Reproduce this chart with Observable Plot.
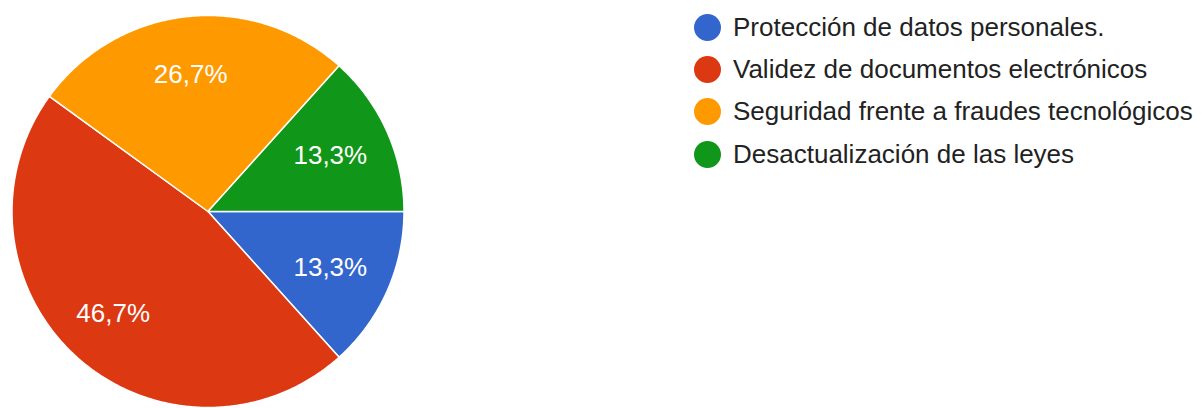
<!DOCTYPE html>
<html>
<head>
<meta charset="utf-8">
<script src="https://cdn.jsdelivr.net/npm/d3@7"></script>
<script src="https://cdn.jsdelivr.net/npm/@observablehq/plot@0.6"></script>
<style>
  html, body { margin: 0; padding: 0; background: #fff; }
  #wrap { position: relative; width: 1203px; height: 408px; overflow: hidden; }
  #legend { position: absolute; left: 694px; top: 6px; font-family: Arial, "Liberation Sans", sans-serif; font-size: 26px; color: #222; }
  .item { display: flex; align-items: center; height: 42.3px; white-space: nowrap; }
  .sw { width: 27px; height: 27px; border-radius: 50%; margin-right: 12px; flex: none; }
</style>
</head>
<body>
<div id="wrap"><div id="legend"></div></div>
<script>
const categories = [
  "Protección de datos personales.",
  "Validez de documentos electrónicos",
  "Seguridad frente a fraudes tecnológicos",
  "Desactualización de las leyes"
];
const values = [2, 7, 4, 2];
const labels = ["13,3%", "46,7%", "26,7%", "13,3%"];
const colors = ["#3366cc", "#dc3912", "#ff9900", "#109618"];

const pie = d3.pie().sort(null).value(d => d.value)
  .startAngle(Math.PI / 2).endAngle(Math.PI / 2 + 2 * Math.PI);
const arcs = pie(categories.map((c, i) => ({category: c, value: values[i], label: labels[i]})));

// polygon outline of each slice in unit-circle coordinates
const poly = [];
arcs.forEach(a => {
  poly.push({category: a.data.category, x: 0, y: 0});
  const n = Math.max(2, Math.ceil((a.endAngle - a.startAngle) / 0.01));
  for (let k = 0; k <= n; k++) {
    const t = a.startAngle + (a.endAngle - a.startAngle) * k / n;
    poly.push({category: a.data.category, x: Math.sin(t), y: Math.cos(t)});
  }
  poly.push({category: a.data.category, x: 0, y: 0});
});
const labelPts = arcs.map(a => {
  const m = (a.startAngle + a.endAngle) / 2;
  return {label: a.data.label, x: 0.7 * Math.sin(m), y: 0.7 * Math.cos(m)};
});

const cx = 207.5, cy = 211, r = 196;
const chart = Plot.plot({
  width: 1203,
  height: 408,
  margin: 0,
  x: {domain: [-1, 1], range: [cx - r, cx + r], axis: null},
  y: {domain: [-1, 1], range: [cy + r, cy - r], axis: null},
  color: {domain: categories, range: colors},
  style: {fontFamily: "Arial, 'Liberation Sans', sans-serif", background: "transparent"},
  marks: [
    Plot.line(poly, {x: "x", y: "y", z: "category", fill: "category", stroke: "#fff", strokeWidth: 1.5, curve: "linear"}),
    Plot.text(labelPts, {x: "x", y: "y", text: "label", fill: "#fff", fontSize: 26, dx: -3})
  ]
});
document.getElementById("wrap").prepend(chart);

const legend = document.getElementById("legend");
categories.forEach((c, i) => {
  const item = document.createElement("div");
  item.className = "item";
  const sw = document.createElement("span");
  sw.className = "sw";
  sw.style.background = colors[i];
  const tx = document.createElement("span");
  tx.textContent = c;
  item.appendChild(sw);
  item.appendChild(tx);
  legend.appendChild(item);
});
</script>
</body>
</html>
